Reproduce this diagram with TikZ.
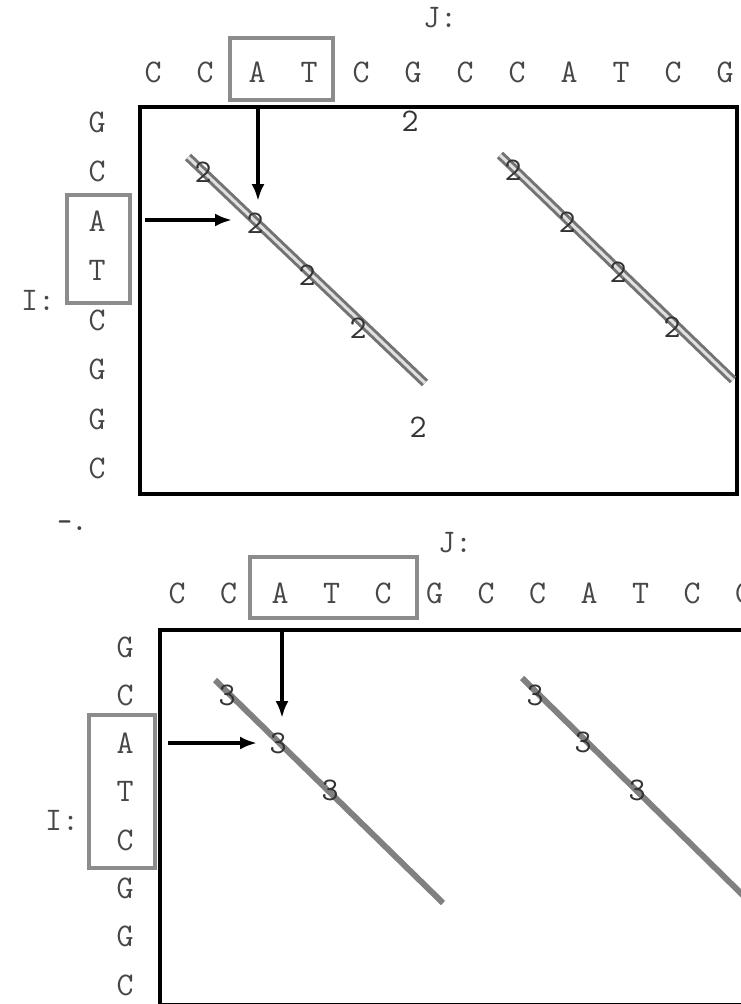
\documentclass[tikz,border=0pt]{standalone}
\usetikzlibrary{arrows.meta}
\begin{document}
\begin{tikzpicture}[x=1pt,y=-1pt,
  seq/.style={font=\ttfamily\fontsize{33}{33}\selectfont, text=black!72, inner sep=0pt, anchor=center},
  lab/.style={font=\ttfamily\fontsize{33}{33}\selectfont, text=black!80, inner sep=0pt, anchor=center},
  hl/.style={draw=black!45, line width=4.5pt, inner sep=0pt},
  panel/.style={draw=black, line width=4pt, inner sep=0pt, anchor=north west},
  ptr/.style={draw=black, line width=3.5pt, -{Latex[length=17pt,width=13pt]}},
  diagA/.style={draw=black!55, line width=3pt, double=black!12, double distance=3pt},
  diagB/.style={draw=black!50, line width=6pt}
]
\useasboundingbox (0,0) rectangle (741,1004);
\clip (0,0) rectangle (741,1004);

% ---------------- top panel ----------------
\node[panel, minimum width=597pt, minimum height=387pt] (pa) at (138,105) {};
\node[seq] (jA) at (440,18) {J:};
\foreach \c [count=\i from 0] in {C,C,A,T,C,G,C,C,A,T,C,G}
  \node[seq] (ta\i) at ({153+52*\i},72) {\c};
\foreach \c [count=\i from 0] in {G,C,A,T,C,G,G,C}
  \node[seq] (la\i) at (97,{122+49.5*\i}) {\c};
\node[seq] (iA) at (38,300) {I:};
\node[hl, minimum width=103pt, minimum height=62pt] (hbA) at (281.5,69) {};
\node[hl, minimum width=63pt, minimum height=108pt] (vbA) at (98.5,249) {};

\coordinate (d1s) at (188,157); \coordinate (d1e) at (425,383);
\coordinate (d2s) at (500,155); \coordinate (d2e) at (733,380);
\draw[diagA] (d1s) -- (d1e);
\draw[diagA] (d2s) -- (d2e);
\foreach \x/\y [count=\i] in {203/172,255/223,307/275,358/328}
  \node[lab] (a1\i) at (\x,\y) {2};
\foreach \x/\y [count=\i] in {513/170,567/222,618/272,672/327}
  \node[lab] (a2\i) at (\x,\y) {2};
\node[lab] (ntA) at (410,121) {2};
\node[lab] (nbA) at (418,427) {2};

\coordinate (vA0) at (258,107); \coordinate (vA1) at (258,201);
\coordinate (hA0) at (145,220); \coordinate (hA1) at (232,220);
\draw[ptr] (vA0) -- (vA1);
\draw[ptr] (hA0) -- (hA1);

% ---------------- bottom panel ----------------
\node[panel, minimum width=602pt, minimum height=375pt] (pb) at (158,628) {};
\node[font=\ttfamily\bfseries\fontsize{28}{28}\selectfont, text=black!75, inner sep=0pt] (mk) at (72,526) {-.};
\node[seq] (jB) at (455,543) {J:};
\foreach \c [count=\i from 0] in {C,C,A,T,C,G,C,C,A,T,C,C}
  \node[seq] (tb\i) at ({177+51.5*\i},593) {\c};
\foreach \c [count=\i from 0] in {G,C,A,T,C,G,G,C}
  \node[seq] (lb\i) at (125,{647+48.3*\i}) {\c};
\node[seq] (iB) at (62,820) {I:};
\node[hl, minimum width=167pt, minimum height=61pt] (hbB) at (333.5,587.5) {};
\node[hl, minimum width=66pt, minimum height=153pt] (vbB) at (122,791.5) {};

\coordinate (e1s) at (215,680); \coordinate (e1e) at (443,903);
\coordinate (e2s) at (522,678); \coordinate (e2e) at (760,912);
\draw[diagB] (e1s) -- (e1e);
\draw[diagB] (e2s) -- (e2e);
\foreach \x/\y [count=\i] in {227/695,278/743,330/790}
  \node[lab] (b1\i) at (\x,\y) {3};
\foreach \x/\y [count=\i] in {535/695,583/742,637/790}
  \node[lab] (b2\i) at (\x,\y) {3};

\coordinate (vB0) at (282,630); \coordinate (vB1) at (282,718);
\coordinate (hB0) at (168,743); \coordinate (hB1) at (257,743);
\draw[ptr] (vB0) -- (vB1);
\draw[ptr] (hB0) -- (hB1);
\end{tikzpicture}
\end{document}
